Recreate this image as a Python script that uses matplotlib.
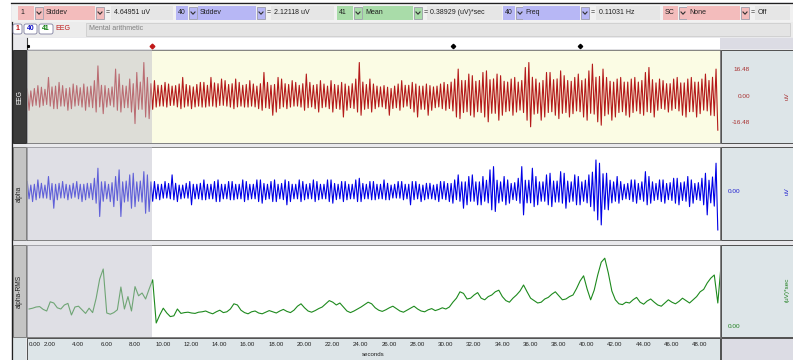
import numpy as np
import matplotlib
matplotlib.use("Agg")
import matplotlib.pyplot as plt
from matplotlib.patches import Rectangle, FancyBboxPatch

plt.rcParams['font.family'] = ['Liberation Sans', 'DejaVu Sans']

# --- recorded data: peak high / peak low per 0.25 s bin ---
t_start = 0.4
bin_w = 0.25

eeg_hi = [4.7, 3.5, 5.0, 6.8, 5.8, 4.5, 11.9, 6.0, 6.5, 8.8,
          6.8, 5.0, 5.5, 7.8, 6.8, 5.5, 7.8, 6.0, 6.5, 9.9,
          19.1, 7.0, 6.8, 5.0, 6.0, 17.1, 14.0, 7.0, 6.5, 10.9,
          8.0, 15.0, 9.0, 21.2, 11.9, 8.0, 9.9, 7.0, 7.0, 8.8,
          7.8, 6.5, 6.8, 7.8, 11.9, 7.5, 6.8, 6.0, 7.5, 8.8,
          8.8, 7.0, 11.9, 8.5, 8.0, 10.9, 9.9, 7.5, 8.0, 10.9,
          8.8, 7.0, 7.5, 9.9, 7.8, 6.5, 8.0, 15.0, 8.8, 7.0,
          7.5, 11.9, 10.9, 8.0, 7.5, 9.9, 8.8, 7.0, 8.0, 14.0,
          8.8, 7.0, 7.5, 9.9, 7.8, 6.5, 9.9, 7.5, 7.0, 8.8,
          7.8, 6.5, 8.0, 10.9, 21.2, 9.0, 7.5, 10.9, 7.8, 6.5,
          6.0, 6.8, 5.8, 5.0, 6.5, 7.8, 9.9, 7.0, 7.0, 8.8,
          7.8, 6.5, 6.5, 7.8, 6.8, 6.0, 6.5, 7.8, 8.8, 7.5,
          9.0, 10.9, 17.1, 10.0, 10.0, 14.0, 13.0, 9.5, 10.0, 15.0,
          16.0, 10.5, 11.0, 14.0, 13.0, 9.5, 9.0, 10.9, 11.9, 9.0,
          10.0, 18.1, 21.2, 12.0, 10.9, 8.5, 10.0, 15.0, 15.0, 10.5,
          11.0, 16.0, 13.0, 10.0, 9.5, 11.9, 14.0, 10.0, 11.0, 16.0,
          20.2, 12.0, 12.5, 17.1, 11.9, 9.5, 9.0, 10.9, 11.9, 9.0,
          9.0, 10.9, 11.9, 9.0, 10.0, 15.0, 18.1, 10.5, 8.5, 10.9,
          9.9, 8.0, 8.0, 10.9, 11.9, 8.5, 8.5, 10.9, 11.9, 9.0,
          9.0, 10.9, 14.0, 10.0, 12.0, 17.1]
eeg_lo = [-8.6, -6.0, -5.5, -6.6, -5.6, -5.0, -6.0, -7.6, -7.6, -6.0,
          -6.0, -8.6, -7.6, -6.0, -5.5, -6.6, -8.6, -6.5, -7.0, -9.7,
          -6.5, -10.7, -6.6, -5.5, -6.5, -8.6, -9.7, -7.0, -7.0, -9.7,
          -16.9, -8.0, -8.0, -12.8, -13.8, -8.0, -6.6, -6.0, -6.0, -6.6,
          -5.6, -5.5, -6.5, -7.6, -6.6, -6.0, -7.6, -6.5, -6.0, -6.6,
          -6.6, -6.0, -6.0, -6.6, -5.6, -5.5, -6.0, -6.6, -7.6, -6.5,
          -6.0, -6.6, -6.6, -6.0, -6.5, -7.6, -8.6, -7.0, -7.5, -11.7,
          -9.7, -7.5, -6.5, -7.6, -6.6, -6.0, -6.0, -6.6, -8.6, -7.0,
          -6.5, -7.6, -9.7, -7.0, -6.5, -7.6, -9.7, -7.5, -8.0, -12.8,
          -8.6, -7.0, -7.5, -9.7, -11.7, -8.0, -7.5, -9.7, -7.6, -6.5,
          -6.5, -7.6, -11.7, -7.5, -7.0, -8.6, -6.6, -6.0, -7.5, -9.7,
          -12.8, -8.0, -8.0, -11.7, -8.6, -7.0, -6.5, -7.6, -8.6, -7.5,
          -9.0, -12.8, -13.8, -10.0, -9.5, -11.7, -12.8, -9.5, -10.0, -12.8,
          -15.8, -10.5, -10.5, -14.8, -11.7, -9.5, -9.0, -11.7, -9.7, -8.5,
          -10.0, -14.8, -18.9, -11.0, -10.5, -14.8, -12.8, -10.0, -9.5, -11.7,
          -13.8, -10.5, -10.0, -12.8, -10.7, -9.0, -9.5, -12.8, -14.8, -10.5,
          -11.0, -15.8, -17.9, -12.0, -11.0, -14.8, -12.8, -10.0, -9.5, -11.7,
          -12.8, -10.0, -9.0, -10.7, -11.7, -9.5, -10.0, -12.8, -8.6, -7.5,
          -8.0, -9.7, -8.6, -7.5, -9.0, -11.7, -12.8, -9.5, -9.5, -12.8,
          -10.7, -8.5, -9.0, -11.7, -12.0, -21.0]

alpha_hi = [6.2, 4.0, 4.5, 7.2, 5.1, 4.0, 9.3, 5.0, 4.5, 5.1,
            6.2, 4.5, 4.0, 5.1, 6.2, 4.5, 4.5, 5.1, 5.0, 8.2,
            14.4, 6.0, 6.2, 4.5, 5.5, 9.3, 13.4, 6.0, 6.5, 10.3,
            11.3, 6.0, 6.5, 12.3, 10.3, 6.0, 6.2, 4.5, 4.5, 6.2,
            5.0, 10.3, 5.1, 4.0, 4.0, 5.1, 6.2, 4.5, 4.5, 5.1,
            7.2, 4.5, 4.5, 6.2, 7.2, 4.5, 4.5, 6.2, 6.2, 4.5,
            4.5, 7.2, 6.2, 4.5, 4.5, 7.2, 7.2, 5.0, 4.5, 6.2,
            7.2, 4.5, 5.0, 7.2, 6.2, 4.5, 4.5, 7.2, 6.2, 4.5,
            5.0, 7.2, 6.2, 4.5, 4.5, 7.2, 7.2, 5.0, 4.5, 6.2,
            6.2, 4.5, 4.5, 7.2, 8.2, 5.0, 4.5, 6.2, 6.2, 4.5,
            4.5, 7.2, 5.1, 4.0, 4.5, 6.2, 6.2, 4.5, 4.5, 6.2,
            6.2, 4.5, 4.0, 5.1, 5.1, 4.0, 4.5, 6.2, 6.2, 5.0,
            5.0, 7.2, 10.3, 6.0, 6.0, 9.3, 10.3, 6.0, 6.0, 9.3,
            7.0, 13.4, 15.4, 7.0, 6.0, 9.3, 7.2, 5.0, 5.5, 8.2,
            15.4, 7.0, 7.0, 14.4, 9.3, 6.0, 6.0, 10.3, 11.3, 6.5,
            6.5, 12.3, 11.3, 6.5, 6.0, 10.3, 9.3, 6.0, 7.0, 10.3,
            12.0, 19.5, 17.5, 11.0, 11.3, 7.0, 6.0, 9.3, 6.2, 4.5,
            5.0, 7.2, 7.2, 5.0, 6.0, 12.3, 9.3, 6.0, 5.0, 7.2,
            7.2, 5.0, 5.5, 8.2, 8.2, 5.5, 6.0, 9.3, 7.2, 5.0,
            5.5, 8.2, 11.3, 7.0, 9.0, 17.5]
alpha_lo = [-4.5, -6.2, -5.1, -4.0, -4.0, -4.1, -5.0, -10.3, -5.1, -4.0,
            -4.0, -5.1, -4.1, -3.5, -4.5, -6.2, -5.1, -4.0, -5.0, -7.2,
            -15.4, -6.0, -4.5, -6.2, -9.3, -5.5, -15.4, -6.5, -6.0, -10.3,
            -9.3, -6.0, -6.5, -13.4, -12.3, -6.0, -4.5, -5.1, -4.1, -4.0,
            -4.5, -5.1, -6.2, -4.5, -4.0, -4.1, -8.2, -4.5, -4.5, -5.1,
            -5.1, -4.5, -4.5, -6.2, -6.2, -4.5, -4.5, -5.1, -5.1, -4.5,
            -4.5, -6.2, -5.1, -4.5, -4.5, -6.2, -7.2, -5.0, -4.5, -6.2,
            -6.2, -4.5, -5.0, -8.2, -6.2, -4.5, -4.5, -6.2, -5.1, -4.5,
            -4.5, -6.2, -5.1, -4.5, -4.5, -6.2, -7.2, -5.0, -4.5, -6.2,
            -5.1, -4.5, -4.5, -6.2, -6.2, -4.5, -4.5, -5.1, -5.1, -4.5,
            -4.5, -5.1, -5.1, -4.0, -4.0, -4.1, -5.1, -4.5, -8.2, -5.0,
            -4.5, -6.2, -5.1, -4.5, -4.5, -5.1, -6.2, -4.5, -5.0, -6.2,
            -7.2, -5.0, -6.0, -10.3, -8.2, -6.0, -6.0, -8.2, -8.2, -6.0,
            -7.0, -11.3, -12.3, -7.0, -6.0, -8.2, -7.2, -5.0, -5.5, -7.2,
            -14.4, -7.0, -7.0, -9.3, -8.2, -6.0, -6.0, -8.2, -9.3, -6.5,
            -6.5, -7.2, -10.3, -6.5, -6.0, -8.2, -8.2, -6.0, -7.0, -9.3,
            -12.0, -17.5, -20.6, -11.0, -11.3, -7.0, -6.0, -7.2, -5.1, -4.5,
            -5.0, -6.2, -7.2, -5.0, -6.0, -8.2, -7.2, -5.5, -5.0, -6.2,
            -7.2, -5.0, -5.5, -7.2, -8.2, -5.5, -6.0, -9.3, -7.2, -5.0,
            -5.5, -8.2, -14.4, -7.0, -9.0, -23.7]

# alpha-RMS, one value per 0.25 s (taken at bin centre)
rms = [0.45, 0.47, 0.50, 0.51, 0.44, 0.40, 0.63, 0.60, 0.48, 0.45,
       0.55, 0.59, 0.30, 0.50, 0.52, 0.43, 0.34, 0.47, 0.36, 0.72,
       1.20, 1.45, 0.35, 0.32, 0.36, 0.43, 1.00, 0.45, 0.76, 0.40,
       1.01, 0.78, 0.85, 0.70, 0.95, 1.18, 0.10, 0.30, 0.47, 0.35,
       0.26, 0.28, 0.45, 0.34, 0.36, 0.37, 0.35, 0.34, 0.37, 0.38,
       0.40, 0.36, 0.33, 0.38, 0.42, 0.36, 0.38, 0.45, 0.58, 0.55,
       0.42, 0.36, 0.33, 0.38, 0.40, 0.35, 0.33, 0.37, 0.41, 0.38,
       0.35, 0.40, 0.44, 0.39, 0.36, 0.42, 0.52, 0.58, 0.48, 0.40,
       0.37, 0.41, 0.46, 0.50, 0.58, 0.66, 0.62, 0.55, 0.60, 0.50,
       0.40, 0.36, 0.40, 0.45, 0.50, 0.56, 0.62, 0.58, 0.48, 0.42,
       0.39, 0.43, 0.48, 0.52, 0.46, 0.40, 0.37, 0.42, 0.47, 0.52,
       0.45, 0.40, 0.38, 0.43, 0.46, 0.41, 0.44, 0.48, 0.45, 0.50,
       0.62, 0.72, 0.88, 0.84, 0.70, 0.72, 0.80, 0.86, 0.72, 0.68,
       0.76, 0.80, 0.88, 0.92, 0.76, 0.66, 0.62, 0.72, 0.80, 0.90,
       1.05, 0.88, 0.72, 0.66, 0.60, 0.62, 0.70, 0.74, 0.82, 0.88,
       0.78, 0.68, 0.70, 0.76, 0.80, 0.96, 1.15, 1.28, 0.95, 0.68,
       0.92, 1.30, 1.62, 1.72, 1.35, 0.90, 0.68, 0.58, 0.56, 0.62,
       0.60, 0.68, 0.74, 0.62, 0.57, 0.65, 0.70, 0.62, 0.55, 0.52,
       0.60, 0.68, 0.62, 0.58, 0.64, 0.72, 0.66, 0.60, 0.68, 0.76,
       0.88, 0.94, 1.10, 1.22, 1.30, 0.60, 1.63]

cursor_t = 9.23
marker_t = [0.45, 30.5, 39.5]
tick_secs = list(range(0, 50, 2))
eeg_scale = [16.48, 0.0, -16.48]

cursor_chan = ["1", "40", "41", "40", "SC"]
cursor_measure = ["Stddev", "Stddev", "Mean", "Freq", "None"]
cursor_value = ["4.64951 uV", "2.12118 uV", "0.38929 (uV)*sec", "0.11031 Hz", "Off"]

# --- window geometry in pixels ---
W, H = 793, 360
t_lo, t_hi = 0.38, 49.43
X0, X1 = 27, 720

fig = plt.figure(figsize=(W / 100, H / 100), dpi=100)
fig.patch.set_facecolor("#e9e9ec")
bg = fig.add_axes([0, 0, 1, 1])
bg.set_xlim(0, W)
bg.set_ylim(H, 0)
bg.axis("off")


def box(x0, y0, x1, y1, fc, ec="none", lw=0.6, z=1):
    bg.add_patch(Rectangle((x0, y0), x1 - x0, y1 - y0, fc=fc, ec=ec, lw=lw, zorder=z))


def txt(x, y, s, c="#202020", size=5, ha="left", **kw):
    bg.text(x, y, s, color=c, fontsize=size, ha=ha, va="center", zorder=5, **kw)


def chevron(x, y):
    bg.plot([x - 2, x, x + 2], [y - 1, y + 1.2, y - 1], color="#303030", lw=0.8, zorder=4)


# window edge
box(0, 0, 11, H, "white")
box(0, 0, W, 2, "white")
bg.plot([11.5, 11.5], [22, H], color="#202020", lw=0.9, zorder=3)
bg.plot([11, W], [2.5, 2.5], color="#202020", lw=0.9, zorder=3)

# ---- cursor toolbar ----
box(12, 3, W, 22, "#f1f1f1")
fills = {"pink": "#f3bcbc", "blue": "#b7b7f5", "green": "#a9dca9"}
group_fill = ["pink", "blue", "green", "blue", "pink"]
chan_x = [(18, 34), (176, 188), (337, 353), (503, 515), (663, 678)]
meas_x = [(44, 95), (198, 256), (363, 413), (523, 580), (687, 740)]
val_x = [(111, 173), (271, 334), (427, 502), (596, 660), (755, 790)]
for k in range(5):
    fc = fills[group_fill[k]]
    cx0, cx1 = chan_x[k]
    mx0, mx1 = meas_x[k]
    vx0, vx1 = val_x[k]
    box(cx0, 6, cx1, 20, fc)
    txt(cx0 + 2, 13, cursor_chan[k])
    box(cx1 + 1, 7, cx1 + 9, 19, fc, ec="#9090a0", lw=0.5)
    chevron(cx1 + 5, 13)
    box(mx0, 6, mx1, 20, fc)
    txt(mx0 + 2, 13, cursor_measure[k])
    box(mx1 + 1, 7, mx1 + 9, 19, fc, ec="#9090a0", lw=0.5)
    chevron(mx1 + 5, 13)
    txt(mx1 + 11, 13, "=")
    box(vx0, 6, vx1, 20, "#e6e6e6")
    txt(vx0 + 3, 13, cursor_value[k])

# ---- second row: channel group and comment ----
box(12, 22, W, 37, "#ececec")
for (x0, x1, s, c) in [(13, 22, "1", "#c01818"), (24, 37, "40", "#1010c8"),
                       (39, 53, "41", "#108010")]:
    bg.add_patch(FancyBboxPatch((x0, 24), x1 - x0, 10, boxstyle="round,pad=0,rounding_size=2",
                                fc="white", ec="#8080a0", lw=0.6, zorder=3))
    txt((x0 + x1) / 2, 29, s, c=c, ha="center", weight="bold")
txt(55, 29, "EEG", c="#c01818")
box(86, 23, 790, 36, "#e4e4e4", ec="#c8c8c8", lw=0.5)
txt(89, 29, "Mental arithmetic", c="#808080")

# ---- marker strip ----
box(X0, 38, X1, 49, "white", z=2)
box(X1, 38, W, 49, "#dcdce4", z=2)
bg.plot([X0, X1], [49.5, 49.5], color="#404040", lw=0.8, zorder=3)
bg.plot([X0, X0], [38, 49.5], color="#404040", lw=0.8, zorder=3)
mk = fig.add_axes([X0 / W, 1 - 49 / H, (X1 - X0) / W, 11 / H])
mk.set_xlim(t_lo, t_hi)
mk.set_ylim(0, 1)
mk.axis("off")
mk.plot(marker_t[1:], [0.3] * 2, "D", ms=2.2, color="black")
mk.plot([marker_t[0]], [0.3], "s", ms=1.2, color="black")
mk.plot([cursor_t], [0.3], "D", ms=2.4, color="#c01818")
mk.plot([cursor_t, cursor_t], [0, 0.3], color="#c01818", lw=0.6)


def chan_axes(y0, y1, face):
    ax = fig.add_axes([X0 / W, 1 - y1 / H, (X1 - X0) / W, (y1 - y0) / H])
    ax.set_facecolor(face)
    ax.set_xlim(t_lo, t_hi)
    ax.set_xticks([])
    ax.set_yticks([])
    for s in ax.spines.values():
        s.set_color("#707070")
        s.set_linewidth(0.6)
    return ax


def zigzag(hi, lo):
    t = t_start + bin_w * np.arange(len(hi))
    x = np.column_stack([t, t + bin_w / 2]).ravel()
    y = np.column_stack([hi, lo]).ravel()
    return x, y


def shade(ax):
    ax.axvspan(t_lo, cursor_t, color="#c0c0cc", alpha=0.5, lw=0, zorder=5)


# channel rows: (top, bottom) in pixels
rows = [(50, 143), (147, 240), (245, 337)]
labels = ["EEG", "alpha", "alpha-RMS"]

# left label tabs
for i, ((y0, y1), lab) in enumerate(zip(rows, labels)):
    if i == 0:
        box(13, y0, 26, y1, "#3a3a3a", ec="#202020", lw=0.6, z=2)
        tc = "white"
    else:
        box(13, y0, 26, y1, "#c4c4c4", ec="#707070", lw=0.6, z=2)
        tc = "#202020"
    bg.text(19.5, (y0 + y1) / 2, lab, rotation=90, color=tc, fontsize=4.8,
            ha="center", va="center", zorder=5)

# EEG
ax1 = chan_axes(50, 143, "#fbfce4")
ax1.set_ylim(-29, 29)
x, y = zigzag(eeg_hi, eeg_lo)
ax1.plot(x, y, color="#b41a1a", lw=0.8)
shade(ax1)

# alpha
ax2 = chan_axes(147, 240, "white")
ax2.set_ylim(-29.9, 27.5)
x, y = zigzag(alpha_hi, alpha_lo)
ax2.plot(x, y, color="#0000e6", lw=0.8)
shade(ax2)

# alpha-RMS
ax3 = chan_axes(245, 337, "white")
ax3.set_ylim(-0.25, 2.05)
t_rms = t_start + bin_w * np.arange(len(rms)) + bin_w / 2
ax3.plot(t_rms, rms, color="#1e8a1e", lw=0.8)
shade(ax3)

# right-hand scale panels
panel_c = "#dde5e8"
for (y0, y1) in rows:
    box(X1 + 1, y0, W, y1, panel_c, ec="#505050", lw=0.7, z=2)
for v in eeg_scale:
    yy = 96 - v * 1.62
    txt(750, yy, "%.2f" % v, c="#a83030", size=4.6, ha="right")
bg.text(787, 96, "uV", rotation=90, color="#a83030", fontsize=4.6, ha="center", va="center", zorder=5)
txt(728, 191.5, "0.00", c="#2020d0", size=4.6)
bg.text(787, 191.5, "uV", rotation=90, color="#2020d0", fontsize=4.6, ha="center", va="center", zorder=5)
txt(728, 327, "0.00", c="#208020", size=4.6)
bg.text(787, 290, "(uV)*sec", rotation=90, color="#208020", fontsize=4.6, ha="center", va="center", zorder=5)

# ---- time axis ----
box(X0, 338, X1, H, panel_c, ec="#505050", lw=0.7, z=2)
box(X1 + 1, 338, W, H, "#dcdce4", ec="#505050", lw=0.7, z=2)
box(13, 338, 26, H, panel_c, z=2)
tx = fig.add_axes([X0 / W, 0, (X1 - X0) / W, 22 / H])
tx.set_xlim(t_lo, t_hi)
tx.set_ylim(0, 22)
tx.axis("off")
for s in tick_secs:
    if s < t_lo:
        tx.text(t_lo + 0.15, 15, "%.2f" % s, fontsize=4.4, ha="left", va="center", color="#202020")
    else:
        tx.text(s, 15, "%.2f" % s, fontsize=4.4, ha="center", va="center", color="#202020")
tx.text((t_lo + t_hi) / 2, 6, "seconds", fontsize=4.4, ha="center", va="center", color="#202020")

fig.savefig("out.png", dpi=100)
